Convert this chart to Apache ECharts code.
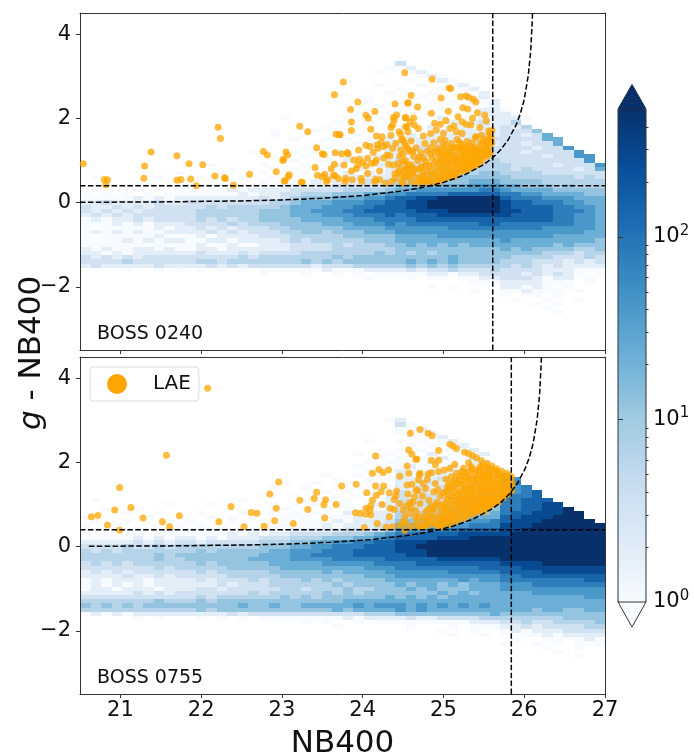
<!DOCTYPE html>
<html><head><meta charset="utf-8">
<style>html,body{margin:0;padding:0;background:#fff}#c{width:694px;height:754px}</style>
<script src="https://cdn.jsdelivr.net/npm/echarts@6/dist/echarts.min.js"></script>
</head><body><div id="c"></div>
<script>
// Histogram cells: one string per row from NB-colour 3.3 down to -2.7 (step 0.1), 50 columns from NB400 20.5 (step 0.13).
// Each character is a level that COUNT_LEVELS turns into a count.
const LEVEL_CHARS = "0123456789ab";
const COUNT_LEVELS = [0, 1, 1.86, 3.47, 6.46, 12, 22.4, 41.7, 77.6, 144, 269, 501];
const GRID_X0 = 20.5, GRID_DX = 0.13, GRID_Y0 = 3.3, GRID_DY = 0.1;

const hist0240 = [
"0000000000 0000000000 0000000000 3000000000 0000000000",
"0000000000 0000000000 0000000001 1200000000 0000000000",
"0000000000 0000000000 0000000010 0120000000 0000000000",
"0000000000 0000000000 0000000000 0012100000 0000000000",
"0000000000 0000000000 0000000000 0100210000 0000000000",
"0000000000 0000000000 0000000010 0010012000 0000000000",
"0000000000 0000000000 0000000000 1000101200 0000000000",
"0000000000 0000000000 0000000001 0101001020 0000000000",
"0000000000 0000000000 0000000100 0010100120 0000000000",
"0000000000 0000000000 0000000100 1001010212 0000000000",
"0000000000 0000000000 0000000010 0100101012 0000000000",
"0000000000 0000000000 0000000101 1010100122 1000000000",
"0000000000 0000000000 0000001001 0101010122 2100000000",
"0000000000 0000000001 0000010010 1010201122 2210000000",
"0000000000 0000000000 0000100101 0101021232 2400000000",
"0000000000 0000000000 0001001010 1102112122 3240000000",
"0000000000 0000000010 0010100101 1011212222 3335000000",
"0000000000 0000000010 0100101011 1212222232 3323600000",
"0000000000 0000000000 1001010112 1222222323 3333660000",
"0000000000 0000000000 0010101112 2122322322 3323360000",
"0000000000 0000000000 0101010122 2232323233 3332337000",
"0000000000 0000001000 1010201012 2323232333 3323333700",
"0000000000 0000000000 0101011021 2232333333 3333233770",
"0000000000 0000000000 1001020112 3232333334 3333333370",
"0000000000 0010000100 0100201021 3333333444 4333323337",
"0000000000 0000100010 1010102112 3333434444 4343333236",
"0000000001 0001000100 0101120212 3434344455 4444333333",
"0100000100 0100010010 1012122222 3444545555 5444444343",
"0010001000 0010100101 1121222323 4445555666 5555444444",
"0000101001 1010111112 2222333334 5556666777 6655545444",
"0101010101 1011212222 3333344445 6677777788 7666655555",
"1010101011 1111121223 3444555667 7888899999 8877666655",
"1111121212 2222222323 4555666778 99aabbbbbb 9888777666",
"2232222322 3333333344 5666777889 9aabbbbbbb a998887766",
"3223232333 3343444445 6667778899 9aabbbbbbb a999988776",
"3232323333 3444444555 6677788999 99aaabbbbb aa99988876",
"2323233333 3444444555 6667778889 8999aaaaaa a999988776",
"1212232333 3434344555 5666677788 8899999999 9999988776",
"1112121222 3333434445 5556667778 7888888899 8888888776",
"1011111212 2323233344 5555566667 7777788888 8888777776",
"1212121122 2232323334 4554555666 7777777777 7777777766",
"1011111211 1212222333 4444455555 6666777777 7777766666",
"1111212122 1122122223 4344444555 6666666666 7666666665",
"1111111111 1211211222 3333434445 5656565666 6666656555",
"2121122121 1221222222 3333444444 5555555555 6565555445",
"2212122222 2322232333 3444444454 5454555555 5555444344",
"3232323333 3333343444 4444545555 5555565555 5444433343",
"3333433333 3443444444 4545455555 5656565555 4443332323",
"2322222322 2232323333 3323334444 4545454444 4343232222",
"0000100101 0101010111 1112111222 2323343334 3333222111",
"0000000000 0000000100 0100101011 1112212233 3323232101",
"0000000000 0000000000 0000000100 0101101122 3332122010",
"0000000000 0000000000 0000000000 0000000111 2222111010",
"0000000000 0000000000 0000000000 0001010000 2212101000",
"0000000000 0000000000 0000000000 0000000100 1121110100",
"0000000000 0000000000 0000000000 0000000000 1011010000",
"0000000000 0000000000 0000000000 0000000000 0100100100",
"0000000000 0000000000 0000000000 0000000000 0001010000",
"0000000000 0000000000 0000000000 0000000000 0000100000",
"0000000000 0000000000 0000000000 0000000000 0000010000",
"0000000000 0000000000 0000000000 0000000000 0000000000"
];

const hist0755 = [
"0000000000 0000000000 0000000000 0000000000 0000000000",
"0000000000 0000000000 0000000000 0000000000 0000000000",
"0000000000 0000000000 0000000000 0000000000 0000000000",
"0000000000 0000000000 0000000001 2000000000 0000000000",
"0000000000 0000000000 0000000000 3100000000 0000000000",
"0000000000 0000000000 0000000000 1120000000 0000000000",
"0000000000 0000000000 0000000000 1012000000 0000000000",
"0000000000 0000000000 0000000000 0101200000 0000000000",
"0000000000 0000000000 0000000100 1010120000 0000000000",
"0000000000 0000000000 0000000000 0101012000 0000000000",
"0000000000 0000000000 0000000000 1010101200 0000000000",
"0000000000 0000000000 0000001001 0102010120 0000000000",
"0000000000 0000000000 0000000010 1011201300 0000000000",
"0000000000 0000000000 0000000101 1102110230 0000000000",
"0000000000 0000000000 0000001010 1211021230 0000000000",
"0000000000 0000000000 0000000101 2112122134 0000000000",
"0000000000 0000000000 0001001010 2122222233 7000000000",
"0000000000 0000000000 0000100101 2222322333 7700000000",
"0000000000 0000000001 0010010110 2223232333 7800000000",
"0000000000 0000000010 0100101011 2232323334 7780000000",
"0000000000 0000000000 0001010101 3232333344 7789000000",
"0000000000 0000000100 1010101012 3233334344 8889000000",
"0100000000 0000010000 0101010112 3333344444 8899900000",
"0000000010 0010000010 1010110122 3334344455 8899aa0000",
"0010010000 0000100001 0101011212 3434445555 8899aab000",
"0000100100 0100010010 1011021122 4344455556 899aaabb00",
"1000001000 0010101001 1101112122 4445555666 99aaabbb00",
"0100100010 1000100101 1111212223 5555666778 9aaabbbbb0",
"1001000101 0101010011 1112122233 6666777888 aaabbbbbbb",
"0100101010 1010111111 2222233335 7778889999 aabbbbbbbb",
"1010110111 1111212122 3333444567 889999aaaa abbbbbbbbb",
"1111121212 2121222333 4445556678 9999aaabbb bbbbbbbbbb",
"2222232323 3233333444 5566778899 aaabbbbbbb bbbbbbbbbb",
"3333433434 4444444555 6677888999 aabbbbbbbb bbbbbbbbbb",
"4343444444 4545555566 7778889999 aaabbbbbbb bbbbbbbbbb",
"4444444545 5555555666 7788889999 9aabbbbbbb bbbbbbbbbb",
"4444444544 5555556666 7777888889 9999aaaaaa bbbbbbbbbb",
"3434344444 4545555566 6667777788 8899999999 aaaabbbbbb",
"3333333434 4444555556 6666666777 8888888899 99aaaaaaaa",
"2323233333 3434444455 5556566667 7777788888 9999aaaaaa",
"2222322323 3333444445 5555555666 7777777777 8899999999",
"1212221222 2323334344 4545455556 6666667677 8888888899",
"1212121222 2223233344 4444545555 6566565666 7778888888",
"1221222122 2332333334 4344454455 5656555666 7777777777",
"2222232323 3333334344 4445454555 5555656566 6667777777",
"3333333333 3434444445 4545555556 5656566666 6666666677",
"4444444544 4545555555 5555566666 6666666666 6666666666",
"5454545555 5555565565 5666667677 7676767676 6666666666",
"4444444444 4545555555 5555656666 7676666666 6665665566",
"1212122222 2222323333 3333333444 5555555556 5555555555",
"0000010100 0101010111 1111121222 2322333344 4444445555",
"0000000000 0000000000 0101001011 1111111222 3343344445",
"0000000000 0000000000 0000100000 0100010111 2232333344",
"0000000000 0000000000 0000000000 0000100100 1212223333",
"0000000000 0000000000 0000000000 0000010010 1011212222",
"0000000000 0000000000 0000000000 0000000000 0100111121",
"0000000000 0000000000 0000000000 0000000000 1001010111",
"0000000000 0000000000 0000000000 0000000000 0000100100",
"0000000000 0000000000 0000000000 0000000000 0000010000",
"0000000000 0000000000 0000000000 0000000000 0000000100",
"0000000000 0000000000 0000000000 0000000000 0000000000"
];

const lae0240 = [
[20.54,.92],[20.8,.55],[20.84,.54],[20.82,.42],[21.38,1.2],[21.3,.87],[21.29,.58],[21.7,1.11],[21.7,.53],[21.75,.55],[21.87,.56],[21.85,.92],[21.94,.4],[22.02,.9],[22.21,1.79],[22.24,1.52],[22.17,.63],[22.29,.59],[22.3,.57],[22.4,.41],[22.6,.67],[22.77,1.21],[22.82,1.13],[22.93,.73],[23.01,1.0],[23.02,1.03],[23.05,1.2],[23.07,1.13],[23.09,.66],[23.08,.62],[23.03,.51],[23.04,.52],[23.22,1.81],[23.32,1.68],[23.25,.48],
[23.76,2.86],[23.65,2.56],[23.94,2.39],[23.85,2.21],[24.15,2.16],[24.04,2.07],[24.07,2.0],[23.86,1.91],[23.86,1.71],[24.1,1.74],[23.67,1.62],[23.71,1.61],[23.72,1.61],[24.17,1.58],[24.24,1.56],[24.35,1.6],[24.4,2.34],[24.56,2.36],[24.52,3.08],[24.42,2.08],[24.38,2.02],[24.39,1.96],[24.37,1.84],[24.35,1.78],[24.45,1.68],[24.47,1.62],[24.53,2.02],[24.55,1.8],[23.43,1.3],[23.5,1.16],[23.52,1.14],[23.66,1.18],[23.74,1.15],[23.81,1.19],[23.82,1.15],[23.95,1.25],[24.04,1.36],[24.09,1.33],[24.18,1.37],[24.23,1.43],[24.26,1.33],[24.19,1.29],[24.3,1.37],[24.37,1.29],[24.41,1.41],[24.48,1.49],[24.54,1.33],[23.41,.83],[23.44,.65],[23.53,.67],[23.5,.61],[23.61,.8],[23.65,.91],[23.77,.89],[23.66,.63],[23.64,.65],[23.7,.57],[23.57,.54],[23.55,.5],[23.79,.58],[23.78,.5],[23.87,.54],[23.24,.48],[23.86,.75],[23.92,.8],[23.89,1.01],[23.96,1.03],[23.94,.89],[24.0,.95],[24.04,.87],[24.06,1.05],[24.13,1.19],[24.17,1.01],[24.15,.95],[24.11,.93],[24.06,.69],[24.21,.75],[24.16,.55],[24.21,.54],[23.98,.57],[23.99,.5],[24.15,.5],[24.26,1.05],[24.3,1.13],[24.34,1.11],[24.32,.91],[24.38,.89],[24.44,.93],[24.5,.97],[24.46,.81],[24.4,.69],[24.54,.81],[24.48,.65],[24.54,.61],[24.4,.57],[24.48,.5],[24.28,.46],[24.36,.5],
[24.86,2.93],[25.07,2.72],[25.09,2.71],[24.6,2.54],[24.56,2.37],[24.97,2.48],[24.68,2.27],[25.21,2.51],[25.28,2.53],[25.31,2.5],[25.37,2.45],[25.4,2.39],[25.24,2.25],[25.3,2.22],[25.06,2.17],[25.42,2.13],[25.51,2.08],[24.85,2.12],[25.18,2.04],[25.36,2.0],[25.53,1.94],[24.53,2.01],[24.63,2.01],[24.59,1.92],[24.64,1.84],[24.53,1.8],[24.69,1.76],[24.89,1.88],[24.96,1.86],[25.03,1.94],[25.23,1.92],[25.28,1.86],[25.34,1.84],[25.45,1.78],[25.13,1.82],[25.08,1.76],[25.0,1.64],[24.91,1.72],[24.84,1.64],[24.75,1.58],[25.16,1.68],[25.23,1.64],[25.56,1.7],[25.6,1.71],[24.56,1.68],[24.5,1.49],[24.6,1.46],[25.47,1.6],[25.4,1.56],[25.58,1.49],[25.49,1.41],
[24.5,.45],[24.52,.62],[24.55,.8],[24.53,1.0],[24.5,1.15],[24.56,1.28],[24.6,.5],[24.62,.7],[24.6,.9],[24.63,1.1],[24.58,1.22],[24.66,1.3],[24.66,.45],[24.68,.6],[24.7,.8],[24.68,1.0],[24.72,1.18],[24.74,.48],[24.76,.65],[24.73,.85],[24.78,.98],[24.8,1.22],[24.77,1.4],[24.82,.46],[24.83,.6],[24.85,.75],[24.82,.88],[24.86,1.05],[24.84,1.3],[24.88,1.42],[24.9,.48],[24.92,.58],[24.9,.72],[24.93,.85],[24.91,1.0],[24.94,1.15],[24.92,1.28],[24.96,1.5],[24.98,.55],[24.99,.68],[25,.8],[24.98,.95],[25.01,1.08],[25,1.2],[25.03,1.35],[25.02,1.48],[25.05,.6],[25.06,.72],[25.08,.88],[25.05,1.0],[25.09,1.12],[25.06,1.25],[25.1,1.4],[25.12,.66],[25.13,.78],[25.15,.92],[25.12,1.05],[25.16,1.2],[25.13,1.32],[25.17,1.5],[25.2,.72],[25.21,.85],[25.19,1.0],[25.22,1.1],[25.2,1.28],[25.23,1.38],[25.25,.75],[25.27,.9],[25.26,1.02],[25.28,1.15],[25.25,1.3],[25.29,1.45],[25.32,.8],[25.33,.95],[25.31,1.08],[25.34,1.22],[25.32,1.35],[25.36,.9],[25.38,1.0],[25.37,1.12],[25.39,1.28],[25.36,1.42],[25.4,1.55],[25.42,.92],[25.43,1.05],[25.45,1.18],[25.42,1.3],[25.46,1.42],[25.48,1.0],[25.5,1.12],[25.49,1.25],[25.52,1.38],[25.5,1.5],[25.54,1.1],[25.55,1.22],[25.57,1.35],[25.54,1.48],[25.58,1.2],[25.6,1.42],[25.59,1.55],[25.57,1.62],
[24.71,.52],[24.74,.72],[24.79,.55],[24.8,.75],[24.78,.88],[24.75,1.05],[24.84,.52],[24.88,.66],[24.87,.9],[24.84,1.15],[24.89,1.2],[24.95,.5],[24.94,.62],[24.96,.78],[24.95,.95],[24.97,1.08],[24.96,1.22],[24.99,1.35],[25.02,.58],[25.02,.72],[25.03,.88],[25.04,.98],[25.03,1.15],[25.08,.62],[25.09,.78],[25.1,.96],[25.08,1.18],[25.11,1.3],[25.14,.62],[25.16,.72],[25.17,.85],[25.17,1.0],[25.15,1.1],[25.18,1.3],[25.2,1.42],[25.23,.78],[25.24,.92],[25.24,1.05],[25.25,1.18],[25.23,1.25],[25.28,.8],[25.3,.88],[25.3,1.0],[25.31,1.2],[25.3,1.3],[25.34,.86],[25.35,1.0],[25.36,1.18],[25.35,1.3],[25.4,.88],[25.41,1.0],[25.4,1.15],[25.41,1.22],[25.44,.98],[25.47,1.1],[25.46,1.25],[25.52,1.2],[25.53,1.3],[25.56,1.15],[24.72,.58],[24.76,.52],[24.65,.78],[24.6,.62],[24.62,.82],[24.7,1.08],[24.62,1.22],[24.56,.9],[24.57,.7],[24.52,.75],[24.46,1.1],[24.44,.72],[24.47,1.25],[24.52,1.4]
];

const lae0755 = [
[22.08,3.76],[21.57,2.17],[20.99,1.4],[20.64,.71],[20.72,.74],[20.84,.51],[20.93,.87],[20.99,.39],[21.13,.93],[21.28,.68],[21.52,.59],[21.61,.47],[21.73,.73],[22.22,.59],[22.37,.95],[22.53,.47],[22.62,.81],[22.69,.79],[22.78,.48],[22.91,.61],[22.93,.91],[22.85,1.25],[22.96,1.53],[23.14,.55],[23.22,1.1],[23.32,.88],[23.4,1.14],[23.43,1.29],[23.52,.99],[23.54,1.11],[23.53,.68],[23.67,1.0],[23.74,1.44],
[23.92,1.48],[24.16,2.15],[24.12,1.74],[24.2,1.83],[24.25,1.76],[24.32,1.82],[24.16,1.44],[24.26,1.44],[24.05,1.28],[24.23,1.3],[24.17,1.22],[24.33,1.28],[24.12,1.1],[24.24,1.0],[24.1,.97],[24.09,.87],[24.04,.91],[23.91,.8],[23.97,.79],[24.04,.77],[24.1,.75],[24.34,.91],[24.39,.88],[24.33,.71],[24.18,.55],[24.02,.45],[24.29,.46],[24.37,.47],[24.59,2.69],[24.57,2.29],[24.61,2.19],[24.66,2.07],[24.55,1.91],[24.57,1.74],[24.46,1.67],[24.55,1.46],[24.61,1.48],[24.7,1.7],[24.69,1.58],[24.66,1.34],[24.68,1.33],[24.42,1.32],[24.41,1.2],[24.39,1.12],[24.56,1.25],[24.64,1.18],[24.46,1.02],[24.58,1.04],[24.54,.96],[24.5,.87],[24.6,.91],[24.58,.79],[24.52,.71],[24.65,.71],[24.5,.59],[24.54,.55],[24.67,.59],[24.46,.51],[24.6,.47],[24.52,.39],[24.68,.5],[24.66,.85],[24.7,.72],[24.62,1.05],[24.75,1.5],[24.8,1.6],
[24.71,2.78],[24.81,2.69],[24.86,2.63],[25.08,2.43],[25.12,2.39],[25.16,2.33],[25.26,2.24],[25.31,2.21],[25.36,2.16],[25.41,2.11],[25.47,2.04],[25.54,1.97],[25.6,1.91],[25.66,1.85],[25.72,1.79],[25.78,1.74],[25.84,1.66],[24.94,2.28],[24.67,2.07],[24.85,2.05],[24.94,2.05],[24.9,1.94],[25.14,1.95],[25.31,1.99],[24.71,1.74],[24.81,1.72],[24.85,1.75],[24.94,1.78],[25.01,1.82],[25.08,1.86],[25.16,1.74],[25.25,1.86],[25.33,1.78],[25.45,1.82],[25.51,1.7],
[24.72,.45],[24.75,.62],[24.78,.82],[24.71,1.02],[24.74,1.2],[24.8,.5],[24.83,.7],[24.85,.95],[24.82,1.1],[24.88,1.3],[24.9,.55],[24.87,.8],[24.92,1.05],[24.78,1.38],[24.9,1.5],[24.95,.45],[24.93,.68],[24.97,.88],
[25,.5],[25.02,.62],[25.03,.78],[25.01,.95],[25.04,1.12],[25.0,1.28],[25.05,1.42],[25.03,1.6],[25.07,.52],[25.08,.7],[25.1,.85],[25.09,1.0],[25.11,1.18],[25.08,1.35],[25.12,1.52],[25.1,1.66],[25.14,.58],[25.15,.75],[25.17,.92],[25.16,1.08],[25.18,1.25],[25.15,1.4],[25.19,1.58],[25.2,.65],[25.22,.82],[25.23,1.0],[25.21,1.15],[25.24,1.32],[25.22,1.48],[25.25,1.65],[25.23,1.78],
[25.27,.68],[25.28,.8],[25.3,.95],[25.27,1.1],[25.3,1.22],[25.28,1.38],[25.31,1.55],[25.3,1.7],[25.34,.75],[25.35,.88],[25.36,1.02],[25.33,1.15],[25.36,1.3],[25.34,1.45],[25.37,1.62],[25.36,1.85],[25.4,.8],[25.41,.93],[25.42,1.08],[25.4,1.22],[25.43,1.36],[25.41,1.5],[25.44,1.68],[25.42,1.8],[25.45,.85],[25.46,1.0],[25.47,1.15],[25.46,1.3],[25.48,1.45],[25.47,1.58],[25.49,1.75],[25.48,1.92],
[25.5,.82],[25.51,.95],[25.52,1.08],[25.53,1.22],[25.5,1.36],[25.54,1.5],[25.52,1.65],[25.55,1.8],[25.56,.92],[25.57,1.05],[25.58,1.18],[25.56,1.32],[25.59,1.45],[25.57,1.6],[25.6,1.72],[25.58,1.85],[25.62,1.0],[25.63,1.12],[25.64,1.25],[25.62,1.38],[25.65,1.5],[25.63,1.62],[25.66,1.78],[25.68,1.05],[25.69,1.18],[25.7,1.3],[25.68,1.42],[25.71,1.55],[25.69,1.68],[25.74,1.15],[25.75,1.28],[25.76,1.4],[25.74,1.52],[25.77,1.65],[25.8,1.25],[25.81,1.38],[25.82,1.5],[25.83,1.6],[25.84,1.32],
[24.75,.48],[24.77,.7],[24.8,.6],[24.84,.55],[24.86,.68],[24.81,.88],[24.88,.9],[24.92,.5],[24.95,.6],[24.96,.75],[24.9,.98],[24.97,1.0],[24.96,1.2],[24.93,1.35],[25,.58],[25,.7],[25.02,.88],[25.05,.65],[25.06,.85],[25.03,1.02],[25.06,1.2],[25.04,1.32],[25.07,1.5],[25.1,.62],[25.12,.75],[25.13,.95],[25.12,1.1],[25.13,1.28],[25.12,1.42],[25.15,1.6],[25.17,.66],[25.18,.82],[25.2,.98],[25.19,1.12],[25.2,1.3],[25.18,1.5],[25.21,1.68],[25.25,.72],[25.24,.88],[25.26,1.05],[25.25,1.22],[25.27,1.4],[25.26,1.55],[25.28,1.75],[25.3,.8],[25.32,.92],[25.31,1.08],[25.32,1.28],[25.33,1.4],[25.32,1.6],[25.34,1.9],[25.38,.86],[25.38,1.0],[25.38,1.15],[25.37,1.38],[25.39,1.55],[25.39,1.72],[25.43,.9],[25.44,1.02],[25.44,1.2],[25.45,1.42],[25.43,1.6],[25.45,1.88],[25.49,.98],[25.49,1.1],[25.49,1.3],[25.5,1.52],[25.5,1.7],[25.52,1.9],[25.54,.98],[25.55,1.15],[25.54,1.38],[25.55,1.6],[25.56,1.72],[25.6,1.0],[25.6,1.1],[25.6,1.3],[25.6,1.52],[25.61,1.82],[25.65,1.1],[25.66,1.2],[25.66,1.4],[25.67,1.6],[25.68,1.72],[25.72,1.2],[25.72,1.35],[25.72,1.48],[25.73,1.65],[25.78,1.25],[25.78,1.35],[25.79,1.5],[25.8,1.68],[25.83,1.42],[25.85,1.5]
];

// Selection curve (the 0755 field is the same shape shifted right).
const curve0240 = [[20.5,.006],[21.5,.016],[22.5,.039],[23,.063],[23.5,.102],[24,.166],[24.5,.277],[24.75,.361],[25,.479],[25.25,.646],[25.5,.904],[25.6,1.048],[25.7,1.234],[25.8,1.485],[25.9,1.842],[25.95,2.098],[26,2.449],[26.05,3.016],[26.08,3.6],[26.1,4.35],[26.105,4.65]];
const curve0755 = [[20.61,.006],[21.61,.016],[22.61,.039],[23.11,.063],[23.61,.102],[24.11,.166],[24.61,.277],[24.86,.361],[25.11,.479],[25.36,.646],[25.61,.904],[25.71,1.048],[25.81,1.234],[25.91,1.485],[26.01,1.842],[26.06,2.098],[26.11,2.449],[26.16,3.016],[26.19,3.6],[26.21,4.35],[26.215,4.65]];
const depth0240 = 25.61, depth0755 = 25.84, colourCut = 0.4;
const xTicks = [21,22,23,24,25,26,27];
const yTicks = [-2,0,2,4];
const cbMajor = [0,1,2];
const cbMinor = [.301,.477,.602,.699,.778,.845,.903,.954,1.301,1.477,1.602,1.699,1.778,1.845,1.903,1.954,2.301,2.477,2.602];
const fieldNames = ["BOSS 0240","BOSS 0755"];
const blues = ["#f7fbff","#deebf7","#c6dbef","#9ecae1","#6baed6","#4292c6","#2171b5","#08519c","#08306b"];

function cells(rows){
  const out=[];
  rows.forEach((r,j)=>{
    const s=r.replace(/ /g,'');
    for(let i=0;i<s.length;i++){
      const lv=LEVEL_CHARS.indexOf(s[i]);
      if(lv>0) out.push([i, j, Math.log10(COUNT_LEVELS[lv])]);
    }
  });
  return out;
}
function edge(v){return Math.round(Math.round(v*100)/100);}
function renderCell(params,api){
  const i=api.value(3), j=api.value(4);
  const xl=GRID_X0+i*GRID_DX, xr=GRID_X0+(i+1)*GRID_DX;
  const yt=GRID_Y0-(j-.5)*GRID_DY, yb=GRID_Y0-(j+.5)*GRID_DY;
  const a=api.coord([xl,yt]), b=api.coord([xr,yb]);
  const l=edge(a[0]),t=edge(a[1]),r=edge(b[0]),bo=edge(b[1]);
  return {type:'rect',shape:{x:l,y:t,width:r-l,height:bo-t},style:{fill:api.visual('color')}};
}
function cellData(rows){
  return cells(rows).map(c=>[GRID_X0+c[0]*GRID_DX+GRID_DX/2, GRID_Y0-c[1]*GRID_DY, c[2], c[0], c[1]]);
}
const FONT='"DejaVu Sans"', INK='#111', FRAME='#333';
const grids=[
  {left:80,top:13,width:525,height:337,outerBoundsMode:'none'},
  {left:80,top:357,width:525,height:337,outerBoundsMode:'none'},
  {left:618,top:109,width:28,height:493,outerBoundsMode:'none'}
];
function xAxes(g,labels){
  return [{
    type:'value',gridIndex:g,min:20.5,max:27,position:'bottom',z:2,
    splitLine:{show:false},
    axisLine:{show:true,onZero:false,lineStyle:{color:FRAME,width:1}},
    axisTick:{show:true,length:4,customValues:xTicks,lineStyle:{color:FRAME}},
    axisLabel:{show:labels,customValues:xTicks,fontFamily:FONT,fontSize:21,color:INK,margin:6},
    name:labels?'NB400':'',nameLocation:'middle',nameGap:34,
    nameTextStyle:{fontFamily:FONT,fontSize:31,color:'#111'}
  },{
    type:'value',gridIndex:g,min:20.5,max:27,position:'top',z:2,
    splitLine:{show:false},axisTick:{show:false},axisLabel:{show:false},
    axisLine:{show:true,onZero:false,lineStyle:{color:FRAME,width:1}}
  }];
}
function yAxes(g){
  return [{
    type:'value',gridIndex:g,min:-3.5,max:4.5,position:'left',z:2,
    splitLine:{show:false},
    axisLine:{show:true,onZero:false,lineStyle:{color:FRAME,width:1}},
    axisTick:{show:true,length:4,customValues:yTicks,lineStyle:{color:FRAME}},
    axisLabel:{customValues:yTicks,fontFamily:FONT,fontSize:21,color:INK,margin:9,
      formatter:v=>String(v).replace('-','\u2212')}
  },{
    type:'value',gridIndex:g,min:-3.5,max:4.5,position:'right',z:2,
    splitLine:{show:false},axisTick:{show:false},axisLabel:{show:false},
    axisLine:{show:true,onZero:false,lineStyle:{color:FRAME,width:1}}
  }];
}
function dashed(name,data,xi,yi){
  return {type:'line',name:name,xAxisIndex:xi,yAxisIndex:yi,data:data,showSymbol:false,symbol:'none',silent:true,z:4,
    lineStyle:{color:'#000',width:1.5,type:[5.5,2.4]}};
}
const option={
  animation:false,
  backgroundColor:'#fff',
  grid:grids,
  xAxis:[...xAxes(0,false),...xAxes(1,true),{type:'value',gridIndex:2,min:0,max:1,show:false}],
  yAxis:[...yAxes(0),...yAxes(1),
    {type:'value',gridIndex:2,min:0,max:2.7,position:'right',z:6,splitLine:{show:false},
     axisLine:{show:false},
     axisTick:{show:true,length:5,inside:false,customValues:cbMajor,lineStyle:{color:FRAME}},
     axisLabel:{customValues:cbMajor,margin:7,formatter:v=>'{b|10}{s|'+v+'}',
       rich:{b:{fontFamily:FONT,fontSize:21,color:INK},
             s:{fontFamily:FONT,fontSize:15,color:INK,padding:[0,0,12,0]}}}},
    {type:'value',gridIndex:2,min:0,max:2.7,position:'right',z:6,splitLine:{show:false},
     axisLine:{show:false},axisLabel:{show:false},
     axisTick:{show:true,length:2.5,customValues:cbMinor,lineStyle:{color:FRAME}}}
  ],
  visualMap:{type:'continuous',show:true,seriesIndex:[0,1],dimension:2,min:0,max:2.7,calculable:false,
    orient:'vertical',left:618,top:109,itemWidth:28,itemHeight:493,text:null,padding:0,showLabel:false,
    textStyle:{fontSize:0,color:'transparent'},inRange:{color:blues},outOfRange:{color:blues[8]}},
  legend:{show:true,data:[{name:'LAE',icon:'circle',itemStyle:{color:'#ffa500',opacity:1}}],left:90,top:367,
    orient:'horizontal',itemWidth:20,itemHeight:20,padding:[7,8,7,17],backgroundColor:'#fff',
    borderColor:'#ddd',borderWidth:1,borderRadius:3,selectedMode:false,
    textStyle:{fontFamily:FONT,fontSize:20,color:'#111',padding:[0,0,0,21]}},
  series:[
    {type:'custom',name:'hist0240',xAxisIndex:0,yAxisIndex:0,data:cellData(hist0240),renderItem:renderCell,encode:{x:0,y:1},z:1,silent:true},
    {type:'custom',name:'hist0755',xAxisIndex:2,yAxisIndex:2,data:cellData(hist0755),renderItem:renderCell,encode:{x:0,y:1},z:1,silent:true},
    {type:'scatter',name:'LAE',xAxisIndex:0,yAxisIndex:0,data:lae0240,symbolSize:7,z:3,itemStyle:{color:'#ffa500',opacity:.75}},
    {type:'scatter',name:'LAE',xAxisIndex:2,yAxisIndex:2,data:lae0755,symbolSize:7,z:3,itemStyle:{color:'#ffa500',opacity:.75}},
    dashed('curve0240',curve0240,0,0),
    dashed('curve0755',curve0755,2,2),
    dashed('vline0240',[[depth0240,-3.5],[depth0240,4.5]],0,0),
    dashed('vline0755',[[depth0755,-3.5],[depth0755,4.5]],2,2),
    dashed('hline0240',[[20.5,colourCut],[27,colourCut]],0,0),
    dashed('hline0755',[[20.5,colourCut],[27,colourCut]],2,2)
  ],
  graphic:[
    {type:'polygon',z:20,shape:{points:[[618,109],[632,84.5],[646,109]]},style:{fill:blues[8],stroke:'#1b2a44',lineWidth:1}},
    {type:'polygon',z:20,shape:{points:[[618,602],[632,627],[646,602]]},style:{fill:blues[0],stroke:'#333',lineWidth:1}},
    {type:'polyline',z:21,shape:{points:[[618,602],[618,109]]},style:{fill:null,stroke:'#2a3340',lineWidth:1}},
    {type:'polyline',z:21,shape:{points:[[646,602],[646,109]]},style:{fill:null,stroke:'#2a3340',lineWidth:1}},
    {type:'text',z:22,left:97,top:325,style:{text:fieldNames[0],fontFamily:FONT,fontSize:19,fill:'#111'}},
    {type:'text',z:22,left:97,top:669,style:{text:fieldNames[1],fontFamily:FONT,fontSize:19,fill:'#111'}},
    {type:'text',z:22,x:32,y:353,rotation:Math.PI/2,originX:0,originY:0,
     style:{text:'{i|g} - NB400',align:'center',verticalAlign:'middle',fontFamily:FONT,fontSize:31,fill:'#111',
       rich:{i:{fontFamily:FONT,fontStyle:'italic',fontSize:31,fill:'#111'}}}}
  ]
};
const chart=echarts.init(document.getElementById('c'),null,{renderer:'canvas',width:694,height:754});
chart.setOption(option);
</script></body></html>
